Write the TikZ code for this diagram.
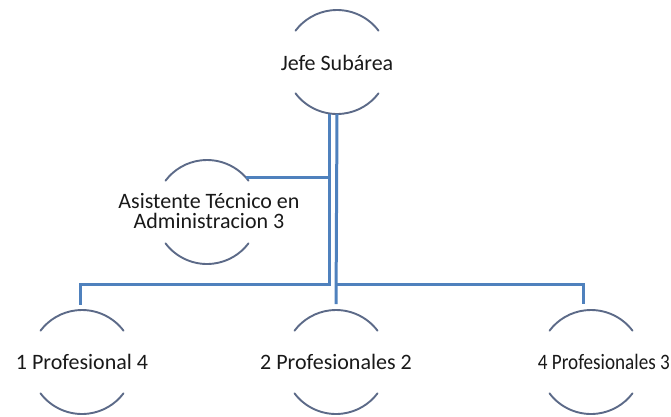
\documentclass[tikz,border=0pt]{standalone}
\usepackage{graphicx}
\usepackage{fontspec}
\setmainfont{Carlito}
\begin{document}
\begin{tikzpicture}[x=1pt,y=-1pt,
  ring/.style={circle,minimum size=104pt,inner sep=0pt,outer sep=0pt,draw=none},
  arcline/.style={draw=ringc,line width=1.9pt,line cap=round},
  conn/.style={draw=connc,line width=3pt},
  txt/.style={font=\fontsize{22}{20}\selectfont,text=textc,inner sep=0pt,align=center}]
\definecolor{ringc}{RGB}{92,106,136}
\definecolor{connc}{RGB}{79,129,189}
\definecolor{textc}{RGB}{25,25,25}
\useasboundingbox (0,0) rectangle (671,416);
% circles
\node[ring] (jefe) at (337,62) {};
\node[ring] (asist) at (207,212) {};
\node[ring] (p1) at (82,362) {};
\node[ring] (p2) at (336,362) {};
\node[ring] (p3) at (591,362) {};
% arcs
\foreach \n in {jefe,asist,p1,p2,p3}{
  \draw[arcline] (\n.37) arc[start angle=37,end angle=143,radius=52pt];
  \draw[arcline] (\n.217) arc[start angle=217,end angle=323,radius=52pt];
}
% texts
\node[txt] (tjefe) at (337,63) {Jefe Subárea};
\node[txt] (tasist) at (209,211) {Asistente Técnico en\\Administracion 3};
\node[txt] (tp1) at (82,362) {1 Profesional 4};
\node[txt] (tp2) at (336,362) {2 Profesionales 2};
\node[txt,anchor=east] (tp3) at (670,362) {\scalebox{0.87}[1]{4 Profesionales 3}};
% connectors
\coordinate (jA) at ([xshift=-8pt]jefe.south);
\coordinate (jB) at (jefe.south);
\draw[conn,shorten >=5pt] (jA) -- ++(0,170) -| ([xshift=-2pt]p1.north);
\draw[conn] (asist.42) -- (asist.42 -| jA);
\draw[conn,shorten >=6pt] (jB) -- (p2.north);
\draw[conn,shorten >=6pt] (jB |- 0,284) -| ([xshift=-8pt]p3.north);
\end{tikzpicture}
\end{document}
